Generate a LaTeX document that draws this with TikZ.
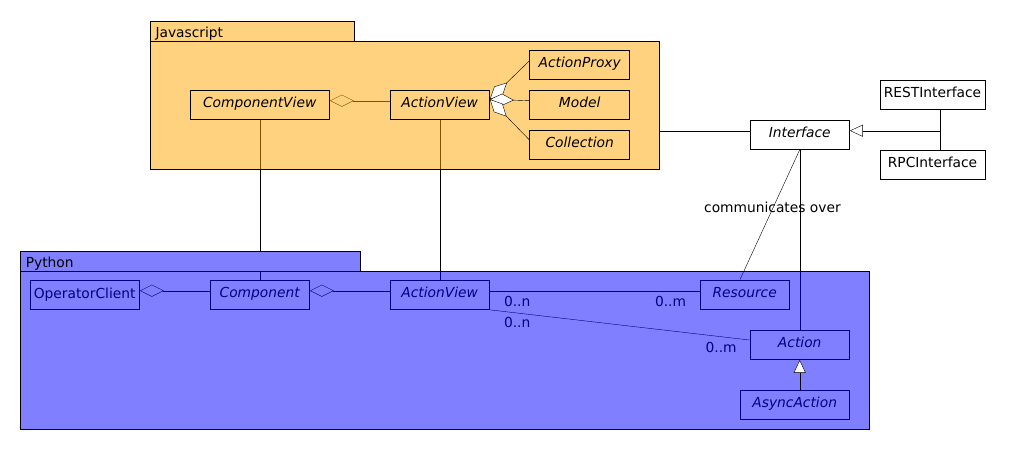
\documentclass[tikz,border=0pt]{standalone}
\usepackage{fontspec}
\setmainfont{DejaVu Sans}
\usetikzlibrary{arrows.meta}

\definecolor{jsfill}{RGB}{255,210,128}
\definecolor{jsveil}{RGB}{255,165,0}
\definecolor{pyfill}{RGB}{128,128,255}
\definecolor{pyline}{RGB}{0,0,128}

\newcommand{\umlsize}{\fontsize{13.8}{16}\selectfont}

\pgfdeclarelayer{lines}
\pgfdeclarelayer{veil}
\pgfsetlayers{lines,veil,main}

\tikzset{
  cls/.style={draw, line width=1pt, minimum height=29.3pt, inner sep=0pt, text height=10pt, text depth=4pt, font=\umlsize\itshape},
  pycls/.style={cls, draw=pyline, text=pyline},
  pkgtab/.style={draw, line width=1pt, anchor=north west, minimum height=20pt, inner xsep=5pt, inner ysep=0pt, text height=12.6pt, text depth=0pt, align=left, font=\umlsize},
  pkgbody/.style={draw, line width=1pt, anchor=north west, inner sep=0pt, fill opacity=0.5},
  mult/.style={inner sep=0pt, font=\umlsize},
  agg/.style={-{Diamond[length=24pt,width=12pt,fill=white]}},
  gen/.style={-{Triangle[length=13pt,width=12pt,fill=white]}},
}

\begin{document}
\begin{tikzpicture}[x=1pt, y=-1pt, line width=1pt]
        \useasboundingbox (0,0) rectangle (1010,450);

        % packages
        \begin{pgfonlayer}{veil}
        \node[pkgtab, fill=jsfill, text width=194pt] (jstab) at (150,20.7) {Javascript};
        \node[pkgbody, fill=jsveil, minimum width=509.3pt, minimum height=128pt] (jsbody) at (150,40.7) {};
        \node[pkgtab, fill=pyfill, text width=329.7pt] (pytab) at (20.3,250.7) {Python};
        \node[pkgbody, fill=blue, minimum width=849pt, minimum height=158.6pt] (pybody) at (20.3,270.7) {};
        \end{pgfonlayer}

        % Javascript
        \node[cls, minimum width=139.3pt] (cv) at (259.7,104.7) {ComponentView};
        \node[cls, minimum width=99.3pt] (jav) at (439.7,104.7) {ActionView};
        \node[cls, minimum width=99.5pt] (proxy) at (579.7,64.7) {ActionProxy};
        \node[cls, minimum width=99.5pt] (model) at (579.7,104.7) {Model};
        \node[cls, minimum width=99.5pt] (coll) at (579.7,144.7) {Collection};

        % Interface
        \node[cls, minimum width=99.3pt] (iface) at (799.7,134.7) {Interface};
        \node[cls, font=\umlsize, minimum width=105pt] (rest) at (932.5,94.7) {RESTInterface};
        \node[cls, font=\umlsize, minimum width=105pt] (rpc) at (932.5,164.7) {RPCInterface};

        % Python
        \node[pycls, font=\umlsize, minimum width=109.3pt] (opc) at (84.7,295) {OperatorClient};
        \node[pycls, minimum width=99.3pt] (comp) at (259.7,294.7) {Component};
        \node[pycls, minimum width=99.3pt] (pav) at (439.7,294.7) {ActionView};
        \node[pycls, minimum width=89.3pt] (res) at (744.7,294.7) {Resource};
        \node[pycls, minimum width=99.3pt] (act) at (799.7,344.7) {Action};
        \node[pycls, minimum width=109.3pt] (async) at (794.7,404.7) {AsyncAction};

        % Javascript links
        \coordinate (javout) at ([yshift=5.4pt]jav.east);
        \draw[agg] ([yshift=4pt]proxy.west) -- (javout);
        \draw[agg] ([yshift=4pt]model.west) -- (javout);
        \draw[agg] ([yshift=4.7pt]coll.west) -- (javout);

        % Interface links
        \coordinate (ifin) at ([yshift=4pt]iface.west);
        \coordinate (ifout) at ([yshift=4pt]iface.east);
        \coordinate (restfoot) at ([xshift=7.5pt]rest.south);
        \coordinate (rpchead) at ([xshift=7.5pt]rpc.north);
        \coordinate (junc) at (restfoot |- ifout);
        \draw (ifin) -- (ifin -| jsbody.east);
        \draw (restfoot) -- (rpchead);
        \draw[gen] (junc) -- (ifout);
        \draw[gen] ([xshift=5pt]async.north) -- (act.south);

        \begin{pgfonlayer}{lines}
        \draw[agg] ([yshift=4pt]jav.west) -- ([yshift=4pt]cv.east);
        \draw (cv.south) -- (comp.north);
        \draw (jav.south) -- (pav.north);
        \draw[agg] ([yshift=4pt]comp.west) -- ([yshift=4.3pt]opc.east);
        \draw[agg] ([yshift=4pt]pav.west) -- ([yshift=4pt]comp.east);
        \draw ([yshift=4pt]pav.east) --
            node[mult, at start, anchor=north west, shift={(14,5.3)}] {0..n}
            node[mult, at end, anchor=north east, shift={(-13.3,5.3)}] {0..m}
            ([yshift=4pt]res.west);
        \draw (pav.south east) --
            node[mult, at start, anchor=north west, shift={(14,7.4)}] {0..n}
            node[mult, at end, anchor=north east, shift={(-12.7,1.7)}] {0..m}
            ([yshift=4.7pt]act.west);
        \draw ([xshift=-4.7pt]res.north) --
            node[mult, pos=0.56, xshift=-1pt] {communicates over} (iface.south);
        \draw (act.north) -- (iface.south);
        \end{pgfonlayer}
\end{tikzpicture}
\end{document}
